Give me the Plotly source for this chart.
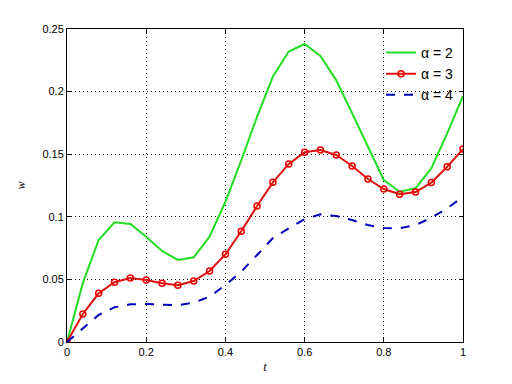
import plotly.graph_objects as go

t = [round(0.04 * i, 2) for i in range(26)]

w_a2 = [0.0, 0.047, 0.0815, 0.0956, 0.0942, 0.0841, 0.0727, 0.0655, 0.0676, 0.0841,
        0.112, 0.145, 0.180, 0.212, 0.232, 0.238, 0.2284, 0.209, 0.1827, 0.156,
        0.1294, 0.120, 0.1228, 0.1387, 0.1667, 0.1965]
w_a3 = [0.0, 0.0224, 0.0389, 0.0477, 0.0511, 0.0495, 0.0469, 0.0453, 0.0487, 0.0567,
        0.070, 0.0884, 0.1086, 0.1275, 0.1422, 0.1515, 0.1534, 0.1494, 0.1406, 0.1302,
        0.1222, 0.118, 0.1198, 0.1273, 0.140, 0.1541]
w_a4 = [0.0, 0.011, 0.0216, 0.0277, 0.0301, 0.0304, 0.0296, 0.0293, 0.0314, 0.0362,
        0.0455, 0.0562, 0.0695, 0.083, 0.0908, 0.0982, 0.102, 0.1006, 0.0974, 0.0934,
        0.091, 0.0908, 0.0934, 0.0993, 0.1068, 0.116]

names = ["α = 2", "α = 3", "α = 4"]
x_ticks = [0, 0.2, 0.4, 0.6, 0.8, 1]
x_ticklabels = ["0", "0.2", "0.4", "0.6", "0.8", "1"]
y_ticks = [0, 0.05, 0.1, 0.15, 0.2, 0.25]
y_ticklabels = ["0", "0.05", "0.1", "0.15", "0.2", "0.25"]

fig = go.Figure()
fig.add_trace(go.Scatter(x=t, y=w_a2, mode="lines", name=names[0],
                         line=dict(color="#22DD22", width=2)))
fig.add_trace(go.Scatter(x=t, y=w_a3, mode="lines+markers", name=names[1],
                         line=dict(color="#DD1111", width=2),
                         marker=dict(symbol="circle-open", size=6, color="#EE0000",
                                     line=dict(width=1.5, color="#EE0000"))))
fig.add_trace(go.Scatter(x=t, y=w_a4, mode="lines", name=names[2],
                         line=dict(color="#0000BB", width=2, dash="dash")))

axis_common = dict(showline=True, linecolor="black", linewidth=1, mirror="ticks",
                   ticks="inside", ticklen=4, tickcolor="black",
                   showgrid=True, gridcolor="black", griddash="1px,3px", gridwidth=1,
                   zeroline=False, automargin=False,
                   tickfont=dict(family="Liberation Sans", size=11, color="black"))

fig.update_xaxes(range=[0, 1], tickvals=x_ticks, ticktext=x_ticklabels,
                 title=dict(text="<i>t</i>", font=dict(family="Liberation Serif", size=12, color="black"), standoff=5),
                 **axis_common)
fig.update_yaxes(range=[0, 0.25], tickvals=y_ticks, ticktext=y_ticklabels,
                 title=dict(text="<i>w</i>", font=dict(family="Liberation Serif", size=12, color="black"), standoff=14),
                 **axis_common)

fig.update_layout(
    width=512, height=384,
    margin=dict(l=59, r=57, t=21, b=50),
    paper_bgcolor="white", plot_bgcolor="white",
    font=dict(family="Liberation Sans", size=11, color="black"),
    legend=dict(x=0.99, y=0.975, xanchor="right", yanchor="top",
                bgcolor="rgba(0,0,0,0)", borderwidth=0,
                font=dict(family="Liberation Sans", size=14, color="black"),
                tracegroupgap=0, itemwidth=30),
)

fig.write_html("out.html")
